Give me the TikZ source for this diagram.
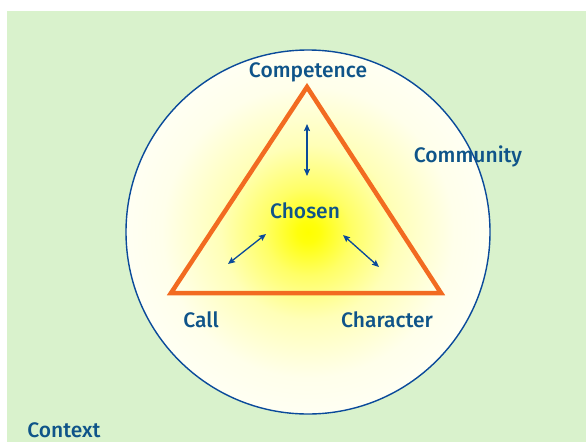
\documentclass[tikz,border=0pt]{standalone}
\usepackage{fontspec}
\setmainfont{Fira Sans}[BoldFont={Fira Sans Medium}]
\usetikzlibrary{arrows.meta}
\definecolor{bggreen}{HTML}{D9F2CC}
\definecolor{navy}{HTML}{0F5489}
\definecolor{ringblue}{HTML}{0A4A9A}
\definecolor{tri}{HTML}{F26B21}
\pgfdeclareradialshading{glow}{\pgfpoint{0bp}{0bp}}{%
  color(0bp)=(yellow);
  color(1.5bp)=(yellow!95);
  color(6bp)=(yellow!60);
  color(12bp)=(yellow!28);
  color(20bp)=(yellow!8);
  color(32bp)=(white);
  color(50bp)=(white)}
\tikzset{
  lbl/.style={text=navy, font=\bfseries\fontsize{21}{23}\selectfont, inner sep=0pt},
  link/.style={draw=ringblue, line width=1.3pt, {Stealth[length=7pt,width=6pt,inset=1pt]}-{Stealth[length=7pt,width=6pt,inset=1pt]}},
}
\begin{document}
\begin{tikzpicture}[x=1pt,y=-1pt]
\useasboundingbox (0,0) rectangle (586,442);
\fill[white] (0,0) rectangle (586,442);
\fill[bggreen] (7,11) rectangle (586,442);
\shade[shading=glow] (308,232) circle (182);
\draw[ringblue, line width=1.4pt] (308,232) circle (182);
\draw[tri, line width=4.5pt, line join=miter] (307,87) -- (441,293) -- (171,293) -- cycle;
\node[lbl] (competence) at (308,72) {Competence};
\node[lbl] (community) at (468,156) {Community};
\node[lbl] (chosen) at (305,211) {Chosen};
\node[lbl] (call) at (201,320) {Call};
\node[lbl] (character) at (387,320) {Character};
\node[lbl] (context) at (64,430) {Context};
\coordinate (a1) at (307,124); \coordinate (a2) at (307,176);
\coordinate (b1) at (266,234); \coordinate (b2) at (228,264);
\coordinate (c1) at (343,235); \coordinate (c2) at (379,267);
\draw[link] (a1) -- (a2);
\draw[link] (b1) -- (b2);
\draw[link] (c1) -- (c2);
\end{tikzpicture}
\end{document}
